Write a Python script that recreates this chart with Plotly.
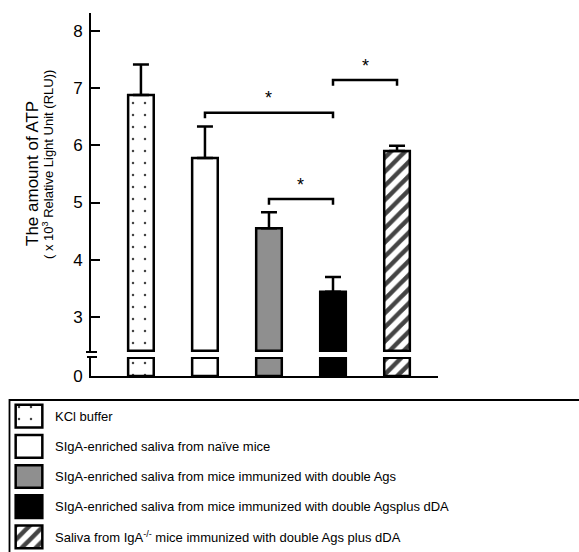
import plotly.graph_objects as go

# ---------------- data ----------------
groups = [
    "KCl buffer",
    "SIgA-enriched saliva from naïve mice",
    "SIgA-enriched saliva from mice immunized with double Ags",
    "SIgA-enriched saliva from mice immunized with double Agsplus dDA",
    "Saliva from IgA<sup>-/-</sup> mice immunized with double Ags plus dDA",
]
atp = [6.88, 5.78, 4.55, 3.44, 5.90]          # x10^3 RLU
sem = [0.53, 0.55, 0.28, 0.26, 0.09]
y_ticks = [3, 4, 5, 6, 7, 8]
# significance brackets: (left group index, right group index, bracket height)
brackets = [(1, 3, 6.57), (2, 3, 5.06), (3, 4, 7.14)]

AXIS_BREAK = 2.41      # where the upper axis segment starts
AXIS_TOP = 8.31
STUB = 0.33            # height of the stub drawn below the break
STUB_TOP = 0.345

# ---------------- styles ----------------
fill_colors = ["white", "white", "#8f8f8f", "black", "white"]
pattern_shapes = [".", "", "", "", "/"]
pattern_sizes = [12, 8, 8, 8, 10]
pattern_solid = [0.035, 0.3, 0.3, 0.3, 0.45]
FONT = "Liberation Sans, Arial, sans-serif"

W, H = 579, 552


def fx(p):
    return p / W


def fy(p):
    return (H - p) / H


def marker_style():
    return dict(
        color=fill_colors,
        pattern=dict(shape=pattern_shapes, size=pattern_sizes, solidity=pattern_solid,
                     fillmode="overlay", fgcolor="black", fgopacity=1),
        line=dict(color="black", width=2.5),
    )


fig = go.Figure()

# upper segment of bars (above the axis break)
fig.add_trace(go.Bar(
    x=groups, y=[v - AXIS_BREAK for v in atp], base=AXIS_BREAK,
    width=0.40, xaxis="x", yaxis="y", marker=marker_style(),
    error_y=dict(type="data", symmetric=False, array=sem, arrayminus=[0] * len(sem),
                 color="black", thickness=2.5, width=8),
    hoverinfo="skip",
))
# lower stub of bars (below the axis break)
fig.add_trace(go.Bar(
    x=groups, y=[STUB] * len(groups), width=0.40, xaxis="x", yaxis="y2",
    marker=marker_style(), hoverinfo="skip",
))

# significance brackets
annotations = []
for i, j, h in brackets:
    fig.add_trace(go.Scatter(
        x=[groups[i], groups[i], groups[j], groups[j]],
        y=[h - 0.1, h, h, h - 0.1],
        mode="lines", line=dict(color="black", width=2.5),
        xaxis="x", yaxis="y", hoverinfo="skip",
    ))
    annotations.append(dict(
        x=(i + j) / 2, y=h + 0.25, xref="x", yref="y", text="*",
        showarrow=False, font=dict(size=18, color="black", family=FONT),
    ))

# legend swatches drawn as a small bar subplot
fig.add_trace(go.Bar(
    y=groups, x=[1] * len(groups), orientation="h", width=0.75,
    xaxis="x3", yaxis="y3", marker=marker_style(), hoverinfo="skip",
))
for g in groups:
    annotations.append(dict(
        x=fx(53), xref="paper", xanchor="left", y=g, yref="y3", yanchor="middle",
        text=g, showarrow=False, font=dict(size=13, color="black", family=FONT),
    ))

# y axis title
annotations.append(dict(
    x=fx(33), y=fy(174), xref="paper", yref="paper", xanchor="center", yanchor="middle",
    text="The amount of ATP", textangle=-90, showarrow=False,
    font=dict(size=17, color="black", family=FONT),
))
annotations.append(dict(
    x=fx(48), y=fy(165), xref="paper", yref="paper", xanchor="center", yanchor="middle",
    text="( x 10<sup>3</sup> Relative Light Unit (RLU))", textangle=-90, showarrow=False,
    font=dict(size=13, color="black", family=FONT),
))

shapes = [
    dict(type="line", xref="paper", yref="y domain", x0=fx(86), x1=fx(97), y0=0, y1=0,
         line=dict(color="black", width=2)),
    dict(type="line", xref="paper", yref="y2 domain", x0=fx(87), x1=fx(97), y0=1, y1=1,
         line=dict(color="black", width=2)),
    dict(type="rect", xref="paper", yref="paper", x0=fx(9.5), x1=1.05, y0=-0.05, y1=fy(400),
         line=dict(color="black", width=1.8), layer="below"),
]

fig.update_layout(
    template="none",
    width=W, height=H, margin=dict(l=0, r=0, t=0, b=0, pad=0, autoexpand=False),
    paper_bgcolor="white", plot_bgcolor="white", showlegend=False,
    font=dict(family=FONT, color="black"),
    annotations=annotations, shapes=shapes,
    xaxis=dict(domain=[fx(91), fx(438)], range=[-0.78, 4.64], anchor="y2",
               automargin=False,
               showline=True, linecolor="black", linewidth=2, ticks="",
               showticklabels=False, showgrid=False, zeroline=False),
    yaxis=dict(domain=[fy(352), fy(13)], range=[AXIS_BREAK - 0.02, AXIS_TOP], anchor="x",
               automargin=False, ticklabelstandoff=3,
               showline=True, linecolor="black", linewidth=2, ticks="inside",
               ticklen=9, tickwidth=2, tickcolor="black", tickvals=y_ticks,
               tickfont=dict(size=17), showgrid=False, zeroline=False),
    yaxis2=dict(domain=[fy(376), fy(357)], range=[0, STUB_TOP], anchor="x",
                automargin=False, ticklabelstandoff=3,
                showline=True, linecolor="black", linewidth=2, ticks="",
                tickvals=[0], tickfont=dict(size=17), showgrid=False, zeroline=False),
    xaxis3=dict(domain=[fx(13), fx(45)], range=[-0.1, 1.1], anchor="y3", visible=False,
                automargin=False),
    yaxis3=dict(domain=[0, fy(401)], range=[4.5, -0.5], anchor="x3", visible=False,
                automargin=False),
)

fig.write_html(
    "out.html",
    config={"displayModeBar": False},
    post_script=("document.body.style.margin='0';"
                 "document.body.style.overflow='hidden';"
                 "document.documentElement.style.overflow='hidden';"),
)
